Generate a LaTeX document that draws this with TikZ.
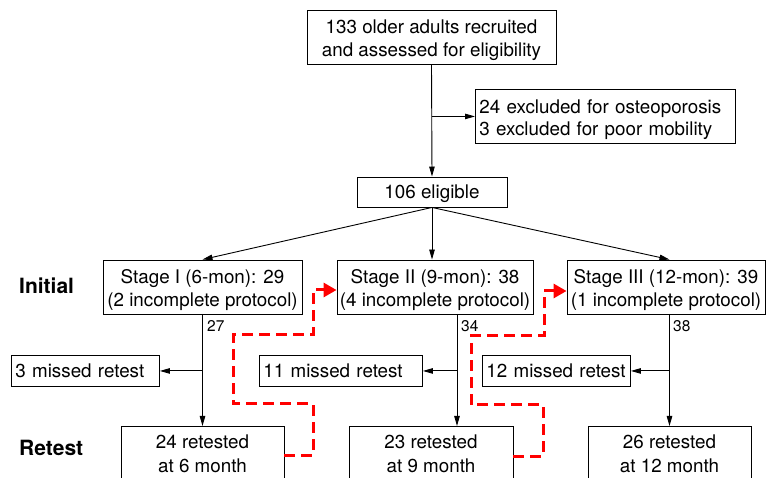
\documentclass[tikz,border=0pt]{standalone}
\usepackage{fontspec}
\setmainfont{TeX Gyre Heros}
\usetikzlibrary{arrows.meta}
\newcommand\tstrut{\rule{0pt}{20pt}}
\begin{document}
\begin{tikzpicture}[x=1pt,y=-1pt,
  every node/.style={font=\fontsize{18.8}{22.7}\selectfont},
  box/.style={draw, line width=0.9pt, inner sep=0pt, align=center},
  lbox/.style={draw, line width=0.9pt, inner xsep=4pt, inner ysep=0pt, align=left, anchor=north west},
  arr/.style={line width=0.9pt, -{Triangle[length=10pt,width=5.5pt]}},
  redarr/.style={draw=red, line width=3pt, dash pattern=on 11pt off 6pt, -{Triangle[length=13pt,width=14pt,fill=red]}},
  num/.style={anchor=base west, inner sep=0pt, font=\fontsize{15.5}{18}\selectfont},
  side/.style={anchor=west, inner sep=0pt, font=\bfseries\fontsize{21}{25}\selectfont}]
\useasboundingbox (0,0) rectangle (769,478);
\clip (0,0) rectangle (769,478);
% top part
\node[box, minimum width=249, minimum height=54] (top) at (431.5,37) {\tstrut 133 older adults recruited\\and assessed for eligibility};
\node[lbox, text width=252, minimum height=54] (exc) at (475,89) {\tstrut 24 excluded for osteoporosis\\3 excluded for poor mobility};
\node[box, minimum width=150, minimum height=30, text depth=0pt] (e) at (432,192) {106 eligible};
% stages
\node[box, minimum width=199, minimum height=54] (s1) at (202.5,287) {\tstrut Stage I (6-mon): 29\\(2 incomplete protocol)};
\node[box, minimum width=196, minimum height=54] (s2) at (435,287) {\tstrut Stage II (9-mon): 38\\(4 incomplete protocol)};
\node[box, minimum width=198, minimum height=54] (s3) at (666,287) {\tstrut Stage III (12-mon): 39\\(1 incomplete protocol)};
% missed
\node[lbox, text width=140, minimum height=31] (m1) at (11,355) {3 missed retest};
\node[lbox, text width=155, minimum height=31] (m2) at (259,355) {11 missed retest};
\node[lbox, text width=140, minimum height=31] (m3) at (482,355) {12 missed retest};
% retest boxes
\node[box, anchor=north, minimum width=163, minimum height=90] (r1) at (202.5,426) {};
\node[box, anchor=north, minimum width=164, minimum height=90] (r2) at (431,426) {};
\node[box, anchor=north, minimum width=163, minimum height=90] (r3) at (669.5,426) {};
\node[anchor=base, inner sep=0pt] (r1a) at (202.5,449) {24 retested};
\node[anchor=base, inner sep=0pt] (r1b) at (202.5,472) {at 6 month};
\node[anchor=base, inner sep=0pt] (r2a) at (431,449) {23 retested};
\node[anchor=base, inner sep=0pt] (r2b) at (431,472) {at 9 month};
\node[anchor=base, inner sep=0pt] (r3a) at (669.5,449) {26 retested};
\node[anchor=base, inner sep=0pt] (r3b) at (669.5,472) {at 12 month};
% side labels
\node[side] (li) at (19,286) {Initial};
\node[side] (lr) at (19,448) {Retest};
% numbers
\node[num] (n1) at (207,332) {27};
\node[num] (n2) at (461,332) {34};
\node[num] (n3) at (673,332) {38};
% coordinates
\coordinate (c1) at (202.5,314);
\coordinate (c2) at (457,314);
\coordinate (c3) at (669.5,314);
% connectors
\draw[arr] (top.south) -- (e.north);
\draw[arr] (top.south |- exc.west) -- (exc.west);
\draw[arr] (e.south) -- (s1.north);
\draw[arr] (e.south) -- (e.south |- s2.north);
\draw[arr] (e.south) -- (c3 |- s3.north);
\draw[arr] (c1) -- (r1.north);
\draw[arr] (c2) -- (c2 |- r2.north);
\draw[arr] (c3) -- (r3.north);
\draw[arr] (c1 |- m1.east) -- (m1.east);
\draw[arr] (c2 |- m2.east) -- (m2.east);
\draw[arr] (c3 |- m3.east) -- (m3.east);
% red dashed paths
\coordinate (p1) at (r1.east |- 0,455);
\coordinate (p2) at (r2.east |- 0,456);
\draw[redarr] (p1) -- (313,455) -- (313,404) -- (233,404) -- (233,335) -- (313,335) -- (313,290) -- (s2.west |- 0,290);
\draw[redarr] (p2) -- (543,456) -- (543,405) -- (471,405) -- (471,336) -- (544,336) -- (544,291) -- (s3.west |- 0,291);
\end{tikzpicture}
\end{document}
